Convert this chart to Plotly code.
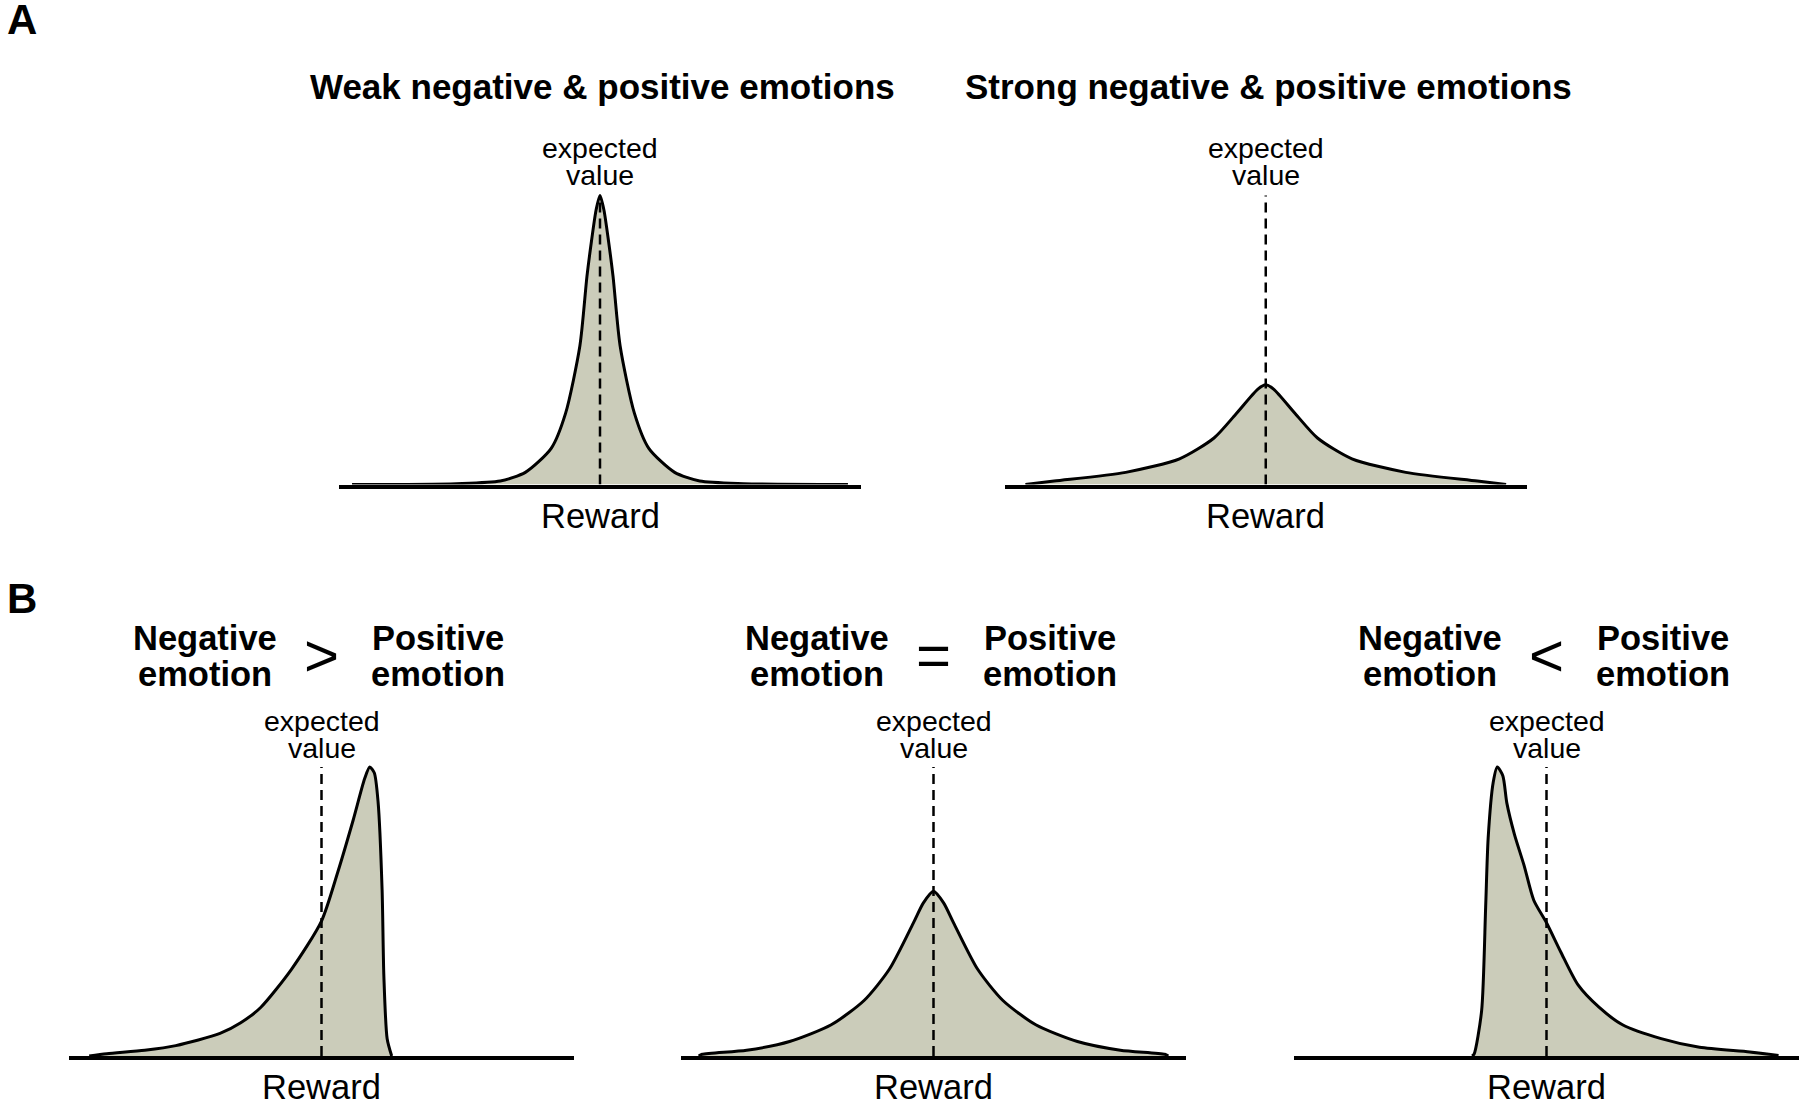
import plotly.graph_objects as go

# reward axis runs -10..10, expected value sits at 0; heights scaled so the tallest peak = 1
weak_x = [-9.5, -5.5, -3.82, -2.86, -1.87, -1.32, -0.77, -0.5, -0.33, -0.15, 0, 0.15, 0.33, 0.5, 0.77, 1.32, 1.87, 2.86, 3.82, 5.5, 9.5]
weak_y = [0, 0.003, 0.012, 0.042, 0.125, 0.246, 0.48, 0.72, 0.84, 0.95, 1.0, 0.95, 0.84, 0.72, 0.48, 0.246, 0.125, 0.042, 0.012, 0.003, 0]

strong_x = [-9.2, -8.1, -5.36, -3.3, -1.98, -1.14, -0.3, 0, 0.3, 1.14, 1.98, 3.3, 5.36, 8.1, 9.2]
strong_y = [0, 0.012, 0.042, 0.089, 0.161, 0.244, 0.33, 0.345, 0.33, 0.244, 0.161, 0.089, 0.042, 0.012, 0]

negdom_x = [-9.2, -8.5, -7.0, -5.77, -4.02, -3.2, -2.41, -1.19, 0, 0.64, 1.25, 1.71, 1.91, 2.09, 2.24, 2.4, 2.47, 2.6, 2.78]
negdom_y = [0, 0.008, 0.02, 0.036, 0.078, 0.115, 0.168, 0.30, 0.467, 0.635, 0.815, 0.96, 1.0, 0.98, 0.88, 0.575, 0.276, 0.06, 0]

equal_x = [-9.3, -9.16, -7.4, -5.7, -4.05, -2.75, -1.75, -0.8, -0.4, 0, 0.4, 0.8, 1.75, 2.75, 4.05, 5.7, 7.4, 9.16, 9.3]
equal_y = [0, 0.006, 0.02, 0.05, 0.108, 0.192, 0.30, 0.46, 0.53, 0.57, 0.53, 0.46, 0.30, 0.192, 0.108, 0.05, 0.02, 0.006, 0]

posdom_x = [-2.95, -2.87, -2.57, -2.41, -2.31, -2.11, -1.95, -1.73, -1.57, -1.27, -0.886, -0.504, 0, 0.565, 1.25, 2.09, 3.01, 4.54, 6.06, 8.05, 9.19]
posdom_y = [0, 0.006, 0.156, 0.515, 0.755, 0.947, 1.0, 0.97, 0.875, 0.767, 0.659, 0.539, 0.461, 0.36, 0.246, 0.168, 0.108, 0.06, 0.03, 0.014, 0.002]

titles_a = ["Weak negative &amp; positive emotions", "Strong negative &amp; positive emotions"]
symbols_b = ["&gt;", "=", "&lt;"]

W, H = 1800, 1107
FILL = "#cbccba"
FONT = "Liberation Sans, Arial, sans-serif"
UNIT = 289  # px for one height unit

# (x left px, x right px, baseline px, curve)
panels = [
    (339, 861, 484.5, weak_x, weak_y),
    (1004.5, 1527, 484.5, strong_x, strong_y),
    (69, 574, 1056, negdom_x, negdom_y),
    (681, 1186, 1056, equal_x, equal_y),
    (1294, 1799, 1056, posdom_x, posdom_y),
]

fig = go.Figure()
layout = {}
ann = []

def txt(x, y, s, size, xref="paper", yref="paper", xanchor="center"):
    ann.append(dict(x=x, y=y, xref=xref, yref=yref, text=s, showarrow=False,
                    xanchor=xanchor, yanchor="middle", borderpad=0,
                    font=dict(family=FONT, size=size, color="black")))

for i, (x0, x1, base, cx, cy) in enumerate(panels):
    n = "" if i == 0 else str(i + 1)
    top = base - 1.08 * UNIT
    layout["xaxis" + n] = dict(domain=[x0 / W, x1 / W], range=[-10, 10], anchor="y" + n,
                               showline=True, linecolor="black", linewidth=3.5,
                               showgrid=False, zeroline=False, showticklabels=False, ticks="")
    layout["yaxis" + n] = dict(domain=[1 - base / H, 1 - top / H], range=[0, 1.08], anchor="x" + n,
                               visible=False)
    fig.add_trace(go.Scatter(x=cx, y=cy, xaxis="x" + n, yaxis="y" + n, mode="lines",
                             line=dict(color="black", width=3, shape="spline", smoothing=0.7),
                             fill="tozeroy", fillcolor=FILL, hoverinfo="skip"))
    fig.add_trace(go.Scatter(x=[0, 0], y=[0, 1.0], xaxis="x" + n, yaxis="y" + n, mode="lines",
                             line=dict(color="black", width=2.5, dash="10px,6px"), hoverinfo="skip"))
    ylab = 148 if i < 2 else 721
    txt(0, 1 - ylab / H, "expected", 28.5, xref="x" + n)
    txt(0, 1 - (ylab + 27) / H, "value", 28.5, xref="x" + n)
    txt(0, 1 - (base + 31) / H, "Reward", 34.5, xref="x" + n)
    if i < 2:
        txt(0.1, 1 - 86 / H, "<b>" + titles_a[i] + "</b>", 35, xref="x" + n)
    else:
        txt(-4.6, 1 - 638 / H, "<b>Negative</b>", 34.5, xref="x" + n)
        txt(-4.6, 1 - 674 / H, "<b>emotion</b>", 34.5, xref="x" + n)
        txt(4.6, 1 - 638 / H, "<b>Positive</b>", 34.5, xref="x" + n)
        txt(4.6, 1 - 674 / H, "<b>emotion</b>", 34.5, xref="x" + n)
        txt(0, 1 - 655 / H, symbols_b[i - 2], 60, xref="x" + n)

txt(22 / W, 1 - 20 / H, "<b>A</b>", 42)
txt(22 / W, 1 - 598 / H, "<b>B</b>", 42)

fig.update_layout(width=W, height=H, margin=dict(l=0, r=0, t=0, b=0),
                  paper_bgcolor="white", plot_bgcolor="white", showlegend=False,
                  annotations=ann, **layout)
# page body has a default 8px margin; drop it so the figure sits at the window corner
fig.write_html("out.html", config={"displayModeBar": False},
               post_script="document.body.style.margin='0px';")
